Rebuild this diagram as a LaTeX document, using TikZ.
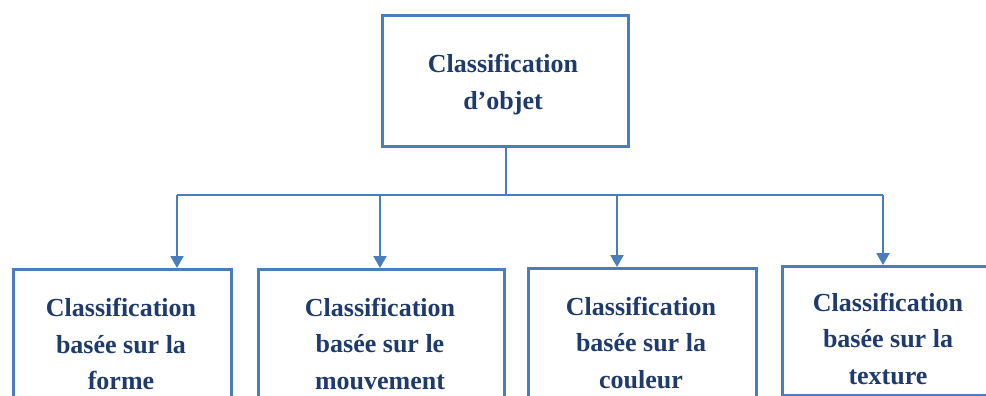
\documentclass[tikz,border=0pt]{standalone}
\usepackage{fontspec}
\setmainfont{Liberation Serif}
\usetikzlibrary{arrows.meta}
\definecolor{lineblue}{HTML}{4A7EBB}
\definecolor{textblue}{HTML}{1F3B6B}
\tikzset{
  boxnode/.style={draw=lineblue, line width=3.4pt, inner sep=0pt, fill=none},
  lbl/.style={text=textblue, align=center, inner sep=0pt,
    font=\fontsize{26}{36.5}\selectfont\bfseries},
  conn/.style={draw=lineblue, line width=2pt},
  arr/.style={conn, -{Triangle[width=13pt,length=12pt]}}
}
\begin{document}
\begin{tikzpicture}[x=1pt,y=-1pt]
\useasboundingbox (0,0) rectangle (986,396);
\clip (0,0) rectangle (986,396);
\fill[white] (0,0) rectangle (986,396);
% boxes
\node[boxnode, anchor=north west, minimum width=246pt, minimum height=131pt] (top) at (381,14) {};
\node[boxnode, anchor=north west, minimum width=218pt, minimum height=160pt] (b1) at (12,268) {};
\node[boxnode, anchor=north west, minimum width=246pt, minimum height=160pt] (b2) at (257,268) {};
\node[boxnode, anchor=north west, minimum width=228pt, minimum height=160pt] (b3) at (527,267) {};
\node[boxnode, anchor=north west, minimum width=214pt, minimum height=129pt] (b4) at (781,265) {};
% texts
\node[lbl] (t0) at (503,84.5) {Classification\\d’objet};
\node[lbl] (t1) at (121,344) {Classification\\basée sur la\\forme};
\node[lbl] (t2) at (380,344) {Classification\\basée sur le\\mouvement};
\node[lbl] (t3) at (641,343) {Classification\\basée sur la\\couleur};
\node[lbl] (t4) at (888,339) {Classification\\basée sur la\\texture};
% connectors
\coordinate (j1) at (177,195);
\coordinate (j2) at (380,195);
\coordinate (j3) at (617,195);
\coordinate (j4) at (883,195);
\coordinate (hub) at (top.south |- j1);
\draw[conn] (top.south) -- (hub);
\draw[conn] (j1) -- (j4);
\draw[arr] (j1) -- (j1 |- b1.north);
\draw[arr] (j2) -- (j2 |- b2.north);
\draw[arr] (j3) -- (j3 |- b3.north);
\draw[arr] (j4) -- (j4 |- b4.north);
\end{tikzpicture}
\end{document}
